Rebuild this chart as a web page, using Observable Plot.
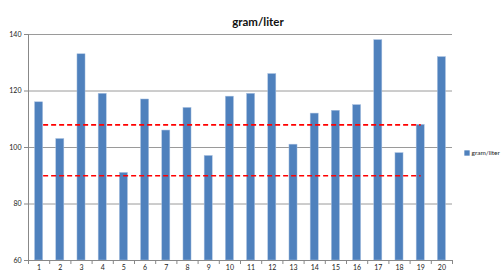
<!DOCTYPE html>
<html><head><meta charset="utf-8">
<script src="https://cdn.jsdelivr.net/npm/d3@7"></script>
<script src="https://cdn.jsdelivr.net/npm/@observablehq/plot@0.6"></script>
<style>body{margin:0;background:#fff}svg{display:block}</style>
</head><body><div id="chart"></div>
<script>
const samples = [1,2,3,4,5,6,7,8,9,10,11,12,13,14,15,16,17,18,19,20];
const values = [116,103,133,119,91,117,106,114,97,118,119,126,101,112,113,115,138,98,108,132];
const limitValues = [108, 90];
const limitStart = 1.19;
const limitEnd = 19;
const yTicks = [60,80,100,120,140];
const title = "gram/liter";
const seriesName = "gram/liter";

const data = samples.map((s, i) => ({s, v: values[i]}));
const limits = limitValues.map(v => ({v, x1: limitStart, x2: limitEnd}));
const halfTicks = d3.range(0.5, 21, 1);
const font = "Lato, 'Open Sans', sans-serif";

const chart = Plot.plot({
  width: 503, height: 274,
  marginLeft: 28, marginRight: 51, marginTop: 34, marginBottom: 14,
  style: {fontFamily: font, fontSize: "7px", color: "#222", background: "#fff", overflow: "visible"},
  x: {domain: [0.5, 20.5], axis: null},
  y: {domain: [60, 140], axis: null},
  marks: [
    Plot.gridY(yTicks.slice(1), {stroke: "#9a9a9a", strokeOpacity: 1, strokeWidth: 1}),
    Plot.rectY(data, {x1: d => d.s - 0.19, x2: d => d.s + 0.19, y1: 60, y2: "v", fill: "#4F81BD", stroke: "#a8c0e0", strokeWidth: 0.5}),
    Plot.ruleY([60], {stroke: "#888"}),
    Plot.ruleX([0.5], {stroke: "#888"}),
    Plot.axisY(yTicks, {anchor: "left", label: null, tickSize: 4, tickPadding: 3, stroke: "#888", fill: "#222", fontSize: 7}),
    Plot.axisX(halfTicks, {anchor: "bottom", label: null, tickSize: 4, tickFormat: () => "", stroke: "#888"}),
    Plot.axisX(samples, {anchor: "bottom", label: null, tickSize: 0, tickPadding: 5, fill: "#222", fontSize: 7}),
    Plot.link(limits, {x1: "x1", x2: "x2", y1: "v", y2: "v", stroke: "#FF0000", strokeWidth: 1.6, strokeDasharray: "5,3"}),
    Plot.text([title], {frameAnchor: "top", dx: 17.5, dy: -17, fontWeight: "bold", fontSize: 11.5, fill: "#111", fontFamily: font}),
    Plot.dot([seriesName], {frameAnchor: "right", dx: 14.5, dy: 5.5, symbol: "square", r: 3, fill: "#4F81BD", stroke: "none"}),
    Plot.text([seriesName], {frameAnchor: "right", dx: 19, dy: 5.5, textAnchor: "start", fontSize: 6.5, fill: "#222", fontFamily: font})
  ]
});
document.getElementById("chart").appendChild(chart);
</script>
</body></html>
